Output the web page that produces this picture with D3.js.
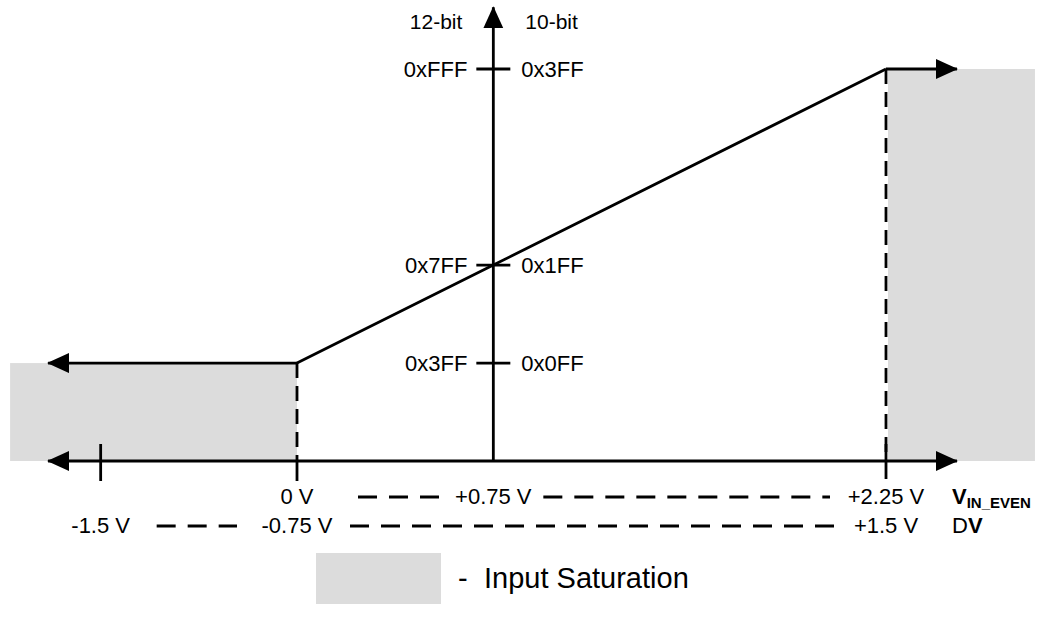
<!doctype html>
<html lang="en">
<head>
<meta charset="utf-8">
<title>ADC transfer function</title>
<style>
  body { margin: 0; background: #fff; }
  text { font-family: "Liberation Sans", Arial, sans-serif; fill: #000; }
</style>
</head>
<body>
<div id="chart"></div>
<script src="https://d3js.org/d3.v7.min.js"></script>
<script>
// transfer curve: input voltage (V_IN_EVEN) -> output code (12-bit)
const transferVolts = [0, 0.75, 2.25];
const transferCodes = [0x3FF, 0x7FF, 0xFFF];

// y axis ticks
const codeValues = [0x3FF, 0x7FF, 0xFFF];
const codeLabels12 = ["0x3FF", "0x7FF", "0xFFF"];
const codeLabels10 = ["0x0FF", "0x1FF", "0x3FF"];

// x axis labels, row 1 (V_IN_EVEN) and row 2 (delta V = V_IN - 0.75)
const vinTicks = [0, 0.75, 2.25];
const vinLabels = ["0 V", "+0.75 V", "+2.25 V"];
const dvTicks = [-1.5, -0.75, 1.5];
const dvLabels = ["-1.5 V", "-0.75 V", "+1.5 V"];
const dvOffset = 0.75;

// extents of the drawing in volts / codes
const axisMinV = -0.951, axisMaxV = 2.521;
const satMinV = -1.096, satMaxV = 2.819;
const axisTopCode = 4740;

const width = 1040, height = 620;
const grey = "#dcdcdc";
const lw = 2.8;
const fs = "22px";

const svg = d3.select("#chart").append("svg")
    .attr("width", width)
    .attr("height", height);

const x = d3.scaleLinear().domain([0, 2.25]).range([297, 886]);
const y = d3.scaleLinear().domain([0, 4095]).range([461, 69]);

// arrow heads
const defs = svg.append("defs");
defs.append("marker")
    .attr("id", "arrow")
    .attr("markerUnits", "userSpaceOnUse")
    .attr("markerWidth", 24).attr("markerHeight", 22)
    .attr("refX", 21).attr("refY", 10)
    .attr("orient", "auto-start-reverse")
    .append("path")
    .attr("d", "M0,0 L22,10 L0,20 Z")
    .attr("fill", "#000");

// saturation areas
svg.append("rect")
    .attr("x", x(satMinV)).attr("y", y(transferCodes[0]))
    .attr("width", x(0) - x(satMinV))
    .attr("height", y(0) - y(transferCodes[0]))
    .attr("fill", grey);
svg.append("rect")
    .attr("x", x(2.25) + 2).attr("y", y(0xFFF))
    .attr("width", x(satMaxV) - x(2.25) - 2)
    .attr("height", y(0) - y(0xFFF))
    .attr("fill", grey);

const line = d3.line().x(d => x(d[0])).y(d => y(d[1]));

// dashed verticals at the saturation points
svg.selectAll("line.drop")
    .data([[0, 0x3FF], [2.25, 0xFFF]])
    .enter().append("line")
    .attr("class", "drop")
    .attr("x1", d => x(d[0])).attr("x2", d => x(d[0]))
    .attr("y1", d => y(d[1])).attr("y2", y(0))
    .attr("stroke", "#000").attr("stroke-width", lw)
    .attr("stroke-dasharray", "15,8");

// x axis (double arrow)
svg.append("path")
    .attr("d", line([[axisMinV, 0], [axisMaxV, 0]]))
    .attr("stroke", "#000").attr("stroke-width", lw).attr("fill", "none")
    .attr("marker-start", "url(#arrow)").attr("marker-end", "url(#arrow)");

// y axis
svg.append("path")
    .attr("d", line([[0.75, 0], [0.75, axisTopCode]]))
    .attr("stroke", "#000").attr("stroke-width", lw).attr("fill", "none")
    .attr("marker-end", "url(#arrow)");

// x ticks
svg.append("line")
    .attr("x1", x(dvTicks[0] + dvOffset)).attr("x2", x(dvTicks[0] + dvOffset))
    .attr("y1", y(0) - 17).attr("y2", y(0) + 20)
    .attr("stroke", "#000").attr("stroke-width", lw);
svg.append("line")
    .attr("x1", x(0)).attr("x2", x(0))
    .attr("y1", y(0)).attr("y2", y(0) + 20)
    .attr("stroke", "#000").attr("stroke-width", lw);
svg.append("line")
    .attr("x1", x(2.25)).attr("x2", x(2.25))
    .attr("y1", y(0) - 17).attr("y2", y(0) + 18)
    .attr("stroke", "#000").attr("stroke-width", lw);

// y ticks + labels
svg.selectAll("line.ytick")
    .data(codeValues)
    .enter().append("line")
    .attr("class", "ytick")
    .attr("x1", x(0.75) - 17).attr("x2", x(0.75) + 17)
    .attr("y1", d => y(d)).attr("y2", d => y(d))
    .attr("stroke", "#000").attr("stroke-width", lw);

svg.selectAll("text.y12")
    .data(codeValues)
    .enter().append("text")
    .attr("class", "y12")
    .attr("x", x(0.75) - 26).attr("y", d => y(d))
    .attr("dy", "0.36em")
    .attr("text-anchor", "end")
    .style("font-size", fs)
    .text((d, i) => codeLabels12[i]);

svg.selectAll("text.y10")
    .data(codeValues)
    .enter().append("text")
    .attr("class", "y10")
    .attr("x", x(0.75) + 28).attr("y", d => y(d))
    .attr("dy", "0.36em")
    .style("font-size", fs)
    .text((d, i) => codeLabels10[i]);

svg.append("text")
    .attr("x", x(0.75) - 31).attr("y", 21).attr("dy", "0.36em")
    .attr("text-anchor", "end").style("font-size", "21px")
    .text("12-bit");
svg.append("text")
    .attr("x", x(0.75) + 32).attr("y", 21).attr("dy", "0.36em")
    .style("font-size", "21px")
    .text("10-bit");

// transfer curve and saturation arrows
svg.append("path")
    .attr("d", line(transferVolts.map((v, i) => [v, transferCodes[i]])))
    .attr("stroke", "#000").attr("stroke-width", lw).attr("fill", "none");
svg.append("path")
    .attr("d", line([[0, transferCodes[0]], [axisMinV, transferCodes[0]]]))
    .attr("stroke", "#000").attr("stroke-width", lw).attr("fill", "none")
    .attr("marker-end", "url(#arrow)");
svg.append("path")
    .attr("d", line([[2.25, transferCodes[2]], [axisMaxV, transferCodes[2]]]))
    .attr("stroke", "#000").attr("stroke-width", lw).attr("fill", "none")
    .attr("marker-end", "url(#arrow)");

// bottom label rows
const row1 = 504, row2 = 533;
svg.selectAll("text.vin")
    .data(vinTicks)
    .enter().append("text")
    .attr("class", "vin")
    .attr("x", d => x(d)).attr("y", row1)
    .attr("text-anchor", "middle").style("font-size", fs)
    .text((d, i) => vinLabels[i]);
svg.selectAll("text.dv")
    .data(dvTicks)
    .enter().append("text")
    .attr("class", "dv")
    .attr("x", d => x(d + dvOffset)).attr("y", row2)
    .attr("text-anchor", "middle").style("font-size", fs)
    .text((d, i) => dvLabels[i]);

// dashed connectors between the labels [from, to, pad left, pad right]
const dashRow1 = [[0, 0.75, 61, 46], [0.75, 2.25, 50, 56]];
const dashRow2 = [[-1.5, -0.75, 56, 60], [-0.75, 1.5, 53, 48]];
svg.selectAll("line.dash1")
    .data(dashRow1)
    .enter().append("line")
    .attr("x1", d => x(d[0]) + d[2]).attr("x2", d => x(d[1]) - d[3])
    .attr("y1", row1 - 7).attr("y2", row1 - 7)
    .attr("stroke", "#000").attr("stroke-width", 3)
    .attr("stroke-dasharray", "19,12");
svg.selectAll("line.dash2")
    .data(dashRow2)
    .enter().append("line")
    .attr("x1", d => x(d[0] + dvOffset) + d[2]).attr("x2", d => x(d[1] + dvOffset) - d[3])
    .attr("y1", row2 - 7).attr("y2", row2 - 7)
    .attr("stroke", "#000").attr("stroke-width", 3)
    .attr("stroke-dasharray", "19,12");

// axis names
const vin = svg.append("text")
    .attr("x", 952).attr("y", row1)
    .style("font-weight", "bold").style("font-size", fs);
vin.append("tspan").text("V");
vin.append("tspan").attr("dy", 4).style("font-size", "15px").text("IN_EVEN");

const dv = svg.append("text")
    .attr("x", 952).attr("y", row2).style("font-size", fs);
dv.append("tspan").text("D");
dv.append("tspan").style("font-weight", "bold").text("V");

// legend
svg.append("rect")
    .attr("x", 316).attr("y", 553)
    .attr("width", 125).attr("height", 51)
    .attr("fill", grey);
svg.append("text")
    .attr("x", 458).attr("y", 588)
    .style("font-size", "29px")
    .text("-");
svg.append("text")
    .attr("x", 484).attr("y", 588)
    .style("font-size", "29px")
    .text("Input Saturation");
</script>
</body>
</html>
